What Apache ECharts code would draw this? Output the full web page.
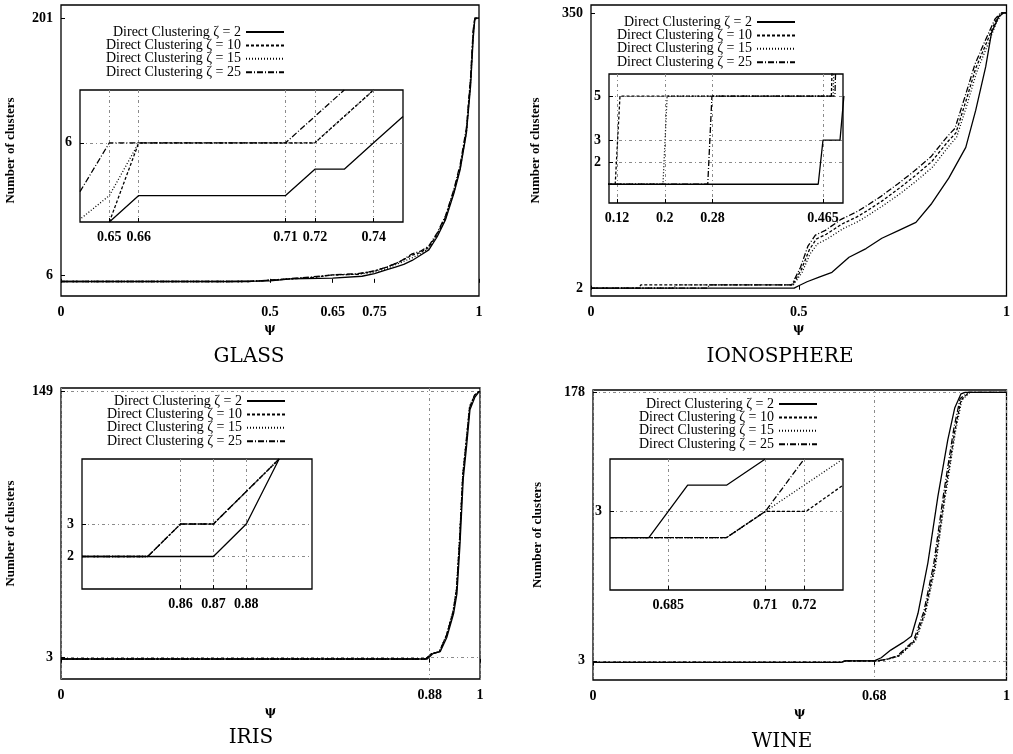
<!DOCTYPE html>
<html><head><meta charset="utf-8">
<script src="https://cdn.jsdelivr.net/npm/echarts@6/dist/echarts.min.js"></script>
<style>html,body{margin:0;padding:0;background:#fff}#c{width:1013px;height:754px}</style>
</head><body><div id="c"></div>
<script>
const seriesNames = ['Direct Clustering ζ = 2','Direct Clustering ζ = 10','Direct Clustering ζ = 15','Direct Clustering ζ = 25'];
const panelTitles = ['GLASS','IONOSPHERE','IRIS','WINE'];
const xName = 'ψ';
const yName = 'Number of clusters';

// ---------- GLASS ----------
const glassXTicks = [0, 0.5, 0.65, 0.75, 1];
const glassYTicks = [6, 201];
const glassZ2  = [[0,1],[0.4,1],[0.5,1.5],[0.55,3],[0.65,3.5],[0.72,5],[0.75,7],[0.78,10],[0.8,12],[0.82,14],[0.84,17],[0.86,21],[0.88,25],[0.9,35],[0.92,48],[0.94,68],[0.955,86],[0.97,114],[0.98,150],[0.986,185],[0.99,200],[0.995,201],[1,201]];
const glassZ10 = [[0,1],[0.45,1],[0.5,2],[0.6,4],[0.65,6],[0.71,6.5],[0.75,9],[0.78,12],[0.81,16],[0.84,21],[0.86,23],[0.88,27],[0.9,37],[0.92,50],[0.94,70],[0.955,88],[0.97,116],[0.98,155],[0.986,190],[0.99,201],[1,201]];
const glassZ15 = [[0,1],[0.45,1],[0.5,2],[0.6,4],[0.65,6],[0.71,6.5],[0.75,8],[0.78,11],[0.81,15],[0.84,19],[0.86,22],[0.88,26],[0.9,36],[0.92,49],[0.94,69],[0.955,87],[0.97,115],[0.98,152],[0.986,188],[0.99,201],[1,201]];
const glassZ25 = [[0,1],[0.45,1],[0.5,2],[0.6,4.5],[0.65,6],[0.71,7],[0.75,9],[0.78,12],[0.81,16],[0.84,22],[0.86,24],[0.88,28],[0.9,38],[0.92,51],[0.94,71],[0.955,90],[0.97,118],[0.98,157],[0.986,192],[0.99,201],[1,201]];
const glassInsetXTicks = [0.65, 0.66, 0.71, 0.72, 0.74];
const glassInsetYTicks = [6];
const glassInZ2  = [[0.65,3],[0.66,4],[0.71,4],[0.72,5],[0.73,5],[0.74,6],[0.75,7]];
const glassInZ10 = [[0.65,3],[0.66,6],[0.72,6],[0.74,8]];
const glassInZ15 = [[0.6405,3.15],[0.65,4],[0.66,6],[0.72,6],[0.74,8]];
const glassInZ25 = [[0.64,4.15],[0.65,6],[0.71,6],[0.73,8]];

// ---------- IONOSPHERE ----------
const ionoXTicks = [0, 0.5, 1];
const ionoYTicks = [2, 350];
const ionoZ2  = [[0,2],[0.489,2],[0.5,5],[0.52,10],[0.549,16],[0.58,22],[0.621,41],[0.662,52],[0.7,65],[0.741,75],[0.782,85],[0.82,109],[0.861,141],[0.902,180],[0.926,227],[0.95,282],[0.964,325],[0.981,345],[0.993,350],[1,350]];
const ionoZ10 = [[0,2],[0.115,2],[0.12,6],[0.485,6],[0.506,25],[0.525,50],[0.542,64],[0.566,70],[0.604,83],[0.64,92],[0.662,99],[0.7,112],[0.741,128],[0.78,144],[0.82,162],[0.86,188],[0.878,198],[0.902,238],[0.926,280],[0.95,310],[0.974,340],[0.988,350],[1,350]];
const ionoZ15 = [[0,2],[0.2,2],[0.205,6],[0.487,6],[0.508,22],[0.527,45],[0.545,58],[0.568,64],[0.606,77],[0.642,86],[0.664,93],[0.702,106],[0.743,121],[0.782,137],[0.822,155],[0.862,182],[0.88,193],[0.904,232],[0.928,275],[0.952,306],[0.976,338],[0.99,350],[1,350]];
const ionoZ25 = [[0,2],[0.28,2],[0.285,6],[0.483,6],[0.504,28],[0.522,55],[0.54,69],[0.564,75],[0.602,89],[0.638,98],[0.66,105],[0.698,118],[0.739,134],[0.778,150],[0.818,168],[0.858,194],[0.876,204],[0.9,244],[0.924,285],[0.948,314],[0.972,342],[0.986,350],[1,350]];
const ionoInsetXTicks = [0.12, 0.2, 0.28, 0.465];
const ionoInsetYTicks = [2, 3, 5];
const ionoInZ2  = [[0.1,1],[0.457,1],[0.465,3],[0.4935,3],[0.5,5]];
const ionoInZ10 = [[0.1,1],[0.117,1],[0.125,5],[0.479,5],[0.481,7]];
const ionoInZ15 = [[0.1,1],[0.197,1],[0.204,5],[0.482,5],[0.484,7]];
const ionoInZ25 = [[0.1,1],[0.272,1],[0.279,5],[0.485,5],[0.487,7]];

// ---------- IRIS ----------
const irisXTicks = [0, 0.88, 1];
const irisYTicks = [3, 149];
const irisZ2  = [[0,2],[0.874,2],[0.888,5],[0.905,6],[0.921,14],[0.937,27],[0.945,38],[0.952,64],[0.96,101],[0.968,119],[0.976,139],[0.988,146],[0.998,149],[1,149]];
const irisZ10 = [[0,2],[0.87,2],[0.885,5],[0.903,6],[0.92,15],[0.936,28],[0.944,40],[0.951,66],[0.959,103],[0.967,121],[0.975,140],[0.987,147],[0.997,149],[1,149]];
const irisZ15 = [[0,2],[0.87,2],[0.885,5],[0.903,6],[0.92,15],[0.936,29],[0.944,41],[0.951,67],[0.959,104],[0.967,122],[0.975,141],[0.987,147],[0.997,149],[1,149]];
const irisZ25 = [[0,2],[0.87,2],[0.885,5],[0.903,6],[0.92,15],[0.936,28],[0.944,40],[0.951,66],[0.959,103],[0.967,121],[0.975,140],[0.987,147],[0.997,149],[1,149]];
const irisInsetXTicks = [0.86, 0.87, 0.88];
const irisInsetYTicks = [2, 3];
const irisInZ2  = [[0.83,2],[0.87,2],[0.88,3],[0.89,5]];
const irisInZ10 = [[0.83,2],[0.85,2],[0.86,3],[0.87,3],[0.89,5]];
const irisInZ15 = [[0.83,2],[0.85,2],[0.86,3],[0.87,3],[0.89,5]];
const irisInZ25 = [[0.83,2],[0.85,2],[0.86,3],[0.87,3],[0.89,5]];

// ---------- WINE ----------
const wineXTicks = [0, 0.68, 1];
const wineYTicks = [3, 178];
const wineZ2  = [[0,2],[0.6,2],[0.61,3],[0.68,3],[0.697,5],[0.72,10],[0.75,15],[0.77,19],[0.786,34],[0.81,67],[0.834,110],[0.858,147],[0.875,168],[0.89,177],[0.9,178],[1,178]];
const wineZ10 = [[0,2],[0.6,2],[0.61,3],[0.69,3],[0.71,4],[0.738,6],[0.778,16],[0.802,34],[0.826,64],[0.85,110],[0.875,153],[0.89,173],[0.91,178],[1,178]];
const wineZ15 = [[0,2],[0.6,2],[0.61,3],[0.69,3],[0.712,4],[0.74,6],[0.78,16],[0.804,34],[0.828,64],[0.852,110],[0.877,153],[0.892,173],[0.912,178],[1,178]];
const wineZ25 = [[0,2],[0.6,2],[0.61,3],[0.69,3],[0.708,4],[0.735,6],[0.775,16],[0.8,35],[0.824,66],[0.848,112],[0.873,155],[0.888,174],[0.908,178],[1,178]];
const wineInsetXTicks = [0.685, 0.71, 0.72];
const wineInsetYTicks = [3];
const wineInZ2  = [[0.67,2],[0.68,2],[0.685,3],[0.69,4],[0.7,4],[0.71,5]];
const wineInZ10 = [[0.67,2],[0.7,2],[0.71,3],[0.7205,3],[0.73,4]];
const wineInZ15 = [[0.67,2],[0.7,2],[0.71,3],[0.73,5]];
const wineInZ25 = [[0.67,2],[0.7,2],[0.71,3],[0.72,5]];

// ---------- layout / assembly ----------
const panels = [
  { main: {rect:[61,5,418,291], x:[0,1], y:[-10,211], xt:glassXTicks, yt:glassYTicks, grid:false, data:[glassZ2,glassZ10,glassZ15,glassZ25]},
    inset:{rect:[80,90,323,132], x:[0.64,0.75], y:[3,8], xt:glassInsetXTicks, yt:glassInsetYTicks, data:[glassInZ2,glassInZ10,glassInZ15,glassInZ25]},
    legend:{right:728, top:25}, title:[249,357], yGap:44 },
  { main: {rect:[591,5,417,291], x:[0,1], y:[-8,360], xt:ionoXTicks, yt:ionoYTicks, grid:false, data:[ionoZ2,ionoZ10,ionoZ15,ionoZ25]},
    inset:{rect:[609,74,234,129], x:[0.1066,0.4985], y:[0.15,6], xt:ionoInsetXTicks, yt:ionoInsetYTicks, data:[ionoInZ2,ionoInZ10,ionoInZ15,ionoInZ25]},
    legend:{right:217, top:15}, title:[780,357], yGap:49 },
  { main: {rect:[61,388,419,291], x:[0,1], y:[-9,151], xt:irisXTicks, yt:irisYTicks, grid:true, data:[irisZ2,irisZ10,irisZ15,irisZ25]},
    inset:{rect:[82,459,230,130], x:[0.83,0.9], y:[1,5], xt:irisInsetXTicks, yt:irisInsetYTicks, data:[irisInZ2,irisInZ10,irisInZ15,irisInZ25]},
    legend:{right:727, top:394}, title:[251,738], yGap:44 },
  { main: {rect:[593,390,416,290], x:[0,1], y:[-9.5,179.5], xt:wineXTicks, yt:wineYTicks, grid:true, data:[wineZ2,wineZ10,wineZ15,wineZ25]},
    inset:{rect:[610,459,233,131], x:[0.67,0.73], y:[0,5], xt:wineInsetXTicks, yt:wineInsetYTicks, data:[wineInZ2,wineInZ10,wineInZ15,wineInZ25]},
    legend:{right:195, top:397}, title:[782,742], yGap:49 }
];

const lineTypes = ['solid', [3,2], [1,2], [6,2,1,2]];
const tickFont = {color:'#000', fontFamily:'Liberation Serif', fontWeight:'bold', fontSize:14};
const gridLine = {color:'#8a8a8a', type:[3,3,1,3], width:1};

const grids = [], xAxes = [], yAxes = [], series = [], legends = [], graphics = [];

function addGrid(g, isInset, p) {
  const idx = grids.length;
  grids.push({left:g.rect[0], top:g.rect[1], width:g.rect[2], height:g.rect[3], show:true,
    borderColor:'#000', borderWidth:1.3, backgroundColor:'#fff', containLabel:false});
  const showGrid = isInset ? true : g.grid;
  xAxes.push({type:'value', gridIndex:idx, min:g.x[0], max:g.x[1],
    name: isInset ? '' : xName, nameLocation:'middle', nameGap:27,
    nameTextStyle:{color:'#000', fontFamily:'DejaVu Serif', fontWeight:'bold', fontSize:12},
    axisLine:{show:false},
    axisTick:{show:true, inside:true, length:4, customValues:g.xt, lineStyle:{color:'#000'}},
    axisLabel:Object.assign({customValues:g.xt, margin:isInset?8:9, formatter:v=>String(v)}, tickFont),
    splitLine:{show:showGrid, lineStyle:gridLine}});
  yAxes.push({type:'value', gridIndex:idx, min:g.y[0], max:g.y[1],
    name: isInset ? '' : yName, nameLocation:'middle', nameGap:p.yGap, nameRotate:90,
    nameTextStyle:{color:'#000', fontFamily:'Liberation Serif', fontWeight:'bold', fontSize:13},
    axisLine:{show:false},
    axisTick:{show:true, inside:true, length:4, customValues:g.yt, lineStyle:{color:'#000'}},
    axisLabel:Object.assign({customValues:g.yt, margin:8, formatter:v=>String(v)}, tickFont),
    splitLine:{show:showGrid, lineStyle:gridLine}});
  g.data.forEach((d, k) => {
    series.push({type:'line', name:seriesNames[k], xAxisIndex:idx, yAxisIndex:idx, data:d,
      symbol:'none', showSymbol:false, clip:true, silent:true,
      itemStyle:{color:'#000'},
      lineStyle:{color:'#000', width:1.3, type:lineTypes[k]}, z: isInset ? 5 : 3});
  });
}

panels.forEach((p, i) => {
  addGrid(p.main, false, p);
  addGrid(p.inset, true, p);
  legends.push({orient:'vertical', right:p.legend.right, top:p.legend.top, padding:0, align:'right',
    itemWidth:38, itemHeight:8, itemGap:-0.6, selectedMode:false, data:seriesNames,
    itemStyle:{opacity:0, color:'transparent', borderWidth:0},
    textStyle:{color:'#000', fontFamily:'Liberation Serif', fontSize:14, lineHeight:13}});
  graphics.push({type:'text', x:p.title[0], y:p.title[1],
    style:{text:panelTitles[i], textAlign:'center', textVerticalAlign:'middle',
      font:'20px "DejaVu Serif"', fill:'#000'}});
});

const chart = echarts.init(document.getElementById('c'), null, {renderer:'canvas'});
chart.setOption({
  animation:false, backgroundColor:'#fff',
  grid:grids, xAxis:xAxes, yAxis:yAxes, series:series, legend:legends, graphic:graphics
});
</script></body></html>
